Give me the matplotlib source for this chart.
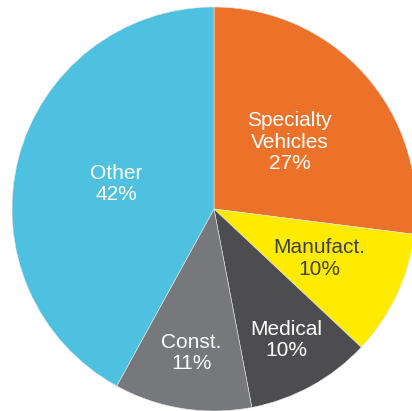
import numpy as np
import matplotlib.pyplot as plt

labels = ['Specialty\nVehicles', 'Manufact.', 'Medical', 'Const.', 'Other']
shares = [27, 10, 10, 11, 42]
colors = ['#EC7229', '#FFEB00', '#4D4D4F', '#77787B', '#4FC1E0']
text_colors = ['white', '#404040', 'white', 'white', 'white']
label_dist = [0.50, 0.575, 0.74, 0.72, 0.50]

plt.rcParams['font.family'] = ['Liberation Sans', 'DejaVu Sans']

fig = plt.figure(figsize=(4.12, 4.11), dpi=100)
ax = fig.add_axes([0, 0, 1, 1])

R = 202
cx, cy = 214, 411 - 209
wedges, _ = ax.pie(shares, colors=colors, startangle=90, counterclock=False,
                   center=(cx, cy), radius=R,
                   wedgeprops=dict(edgecolor='#e6e6e6', linewidth=0.4))

for w, lab, val, tc, d in zip(wedges, labels, shares, text_colors, label_dist):
    ang = np.deg2rad((w.theta1 + w.theta2) / 2)
    x = cx + d * R * np.cos(ang)
    y = cy + d * R * np.sin(ang)
    ax.text(x, y, f'{lab}\n{val}%', ha='center', va='center', color=tc,
            fontsize=15, linespacing=1.15)

ax.set_xlim(0, 412)
ax.set_ylim(0, 411)
ax.set_aspect('equal')
ax.axis('off')

fig.savefig('out.png', dpi=100)
